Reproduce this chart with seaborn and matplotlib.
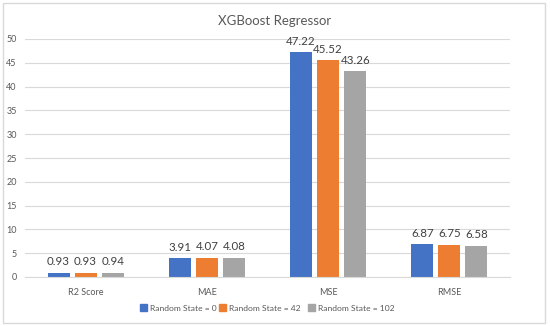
"""XGBoost regressor metrics for three random states."""
import matplotlib
matplotlib.use('Agg')
import matplotlib.pyplot as plt
import matplotlib.patches as mpatches
import pandas as pd
import seaborn as sns

metrics = ['R2 Score', 'MAE', 'MSE', 'RMSE']
states = ['Random State = 0', 'Random State = 42', 'Random State = 102']
state_0 = [0.93, 3.91, 47.22, 6.87]
state_42 = [0.93, 4.07, 45.52, 6.75]
state_102 = [0.94, 4.08, 43.26, 6.58]
colors = ['#4472C4', '#ED7D31', '#A5A5A5']

rows = []
for state, vals in zip(states, [state_0, state_42, state_102]):
    for m, v in zip(metrics, vals):
        rows.append({'metric': m, 'state': state, 'value': v})
df = pd.DataFrame(rows)

sns.set_style('white')
plt.rcParams['font.family'] = ['Lato', 'DejaVu Sans']
text_col = '#595959'

fig = plt.figure(figsize=(5.5, 3.26), dpi=100)
ax = fig.add_axes([25 / 550, 1 - 277 / 326, 485 / 550, 238 / 326])

sns.barplot(data=df, x='metric', y='value', hue='state', order=metrics,
            hue_order=states, palette=colors, width=0.67, gap=0.185,
            saturation=1, ax=ax, legend=False, linewidth=0)

for cont in ax.containers:
    ax.bar_label(cont, fmt='%.2f', padding=4, fontsize=8.3, color='#404040')

ax.set_ylim(0, 50)
ax.set_yticks(range(0, 51, 5))
ax.yaxis.grid(True, color='#D9D9D9', linewidth=0.8)
ax.set_axisbelow(True)
for s in ['top', 'right', 'left']:
    ax.spines[s].set_visible(False)
ax.spines['bottom'].set_color('#D9D9D9')
ax.tick_params(axis='both', length=0, labelsize=6.5, colors=text_col)
ax.tick_params(axis='x', pad=8)
ax.tick_params(axis='y', pad=6)
ax.set_xlabel('')
ax.set_ylabel('')

fig.text(0.5, 1 - 21 / 326, 'XGBoost Regressor', ha='center', va='center',
         fontsize=9.5, color=text_col)

# one legend entry per state, laid out like the Excel legend row
for c, s, x0 in zip(colors, states, [140, 219, 308]):
    fig.legend(handles=[mpatches.Patch(color=c, label=s)],
               loc='center left', bbox_to_anchor=(x0 / 550, 1 - 308 / 326),
               frameon=False, fontsize=6.1, labelcolor=text_col,
               handlelength=0.8, handleheight=0.8, handletextpad=0.35,
               borderpad=0, borderaxespad=0)

fig.patches.append(mpatches.Rectangle((3 / 550, 3 / 326), 542 / 550, 320 / 326,
                                      transform=fig.transFigure, fill=False,
                                      edgecolor='#D9D9D9', linewidth=1))

fig.savefig('out.png', dpi=100)
